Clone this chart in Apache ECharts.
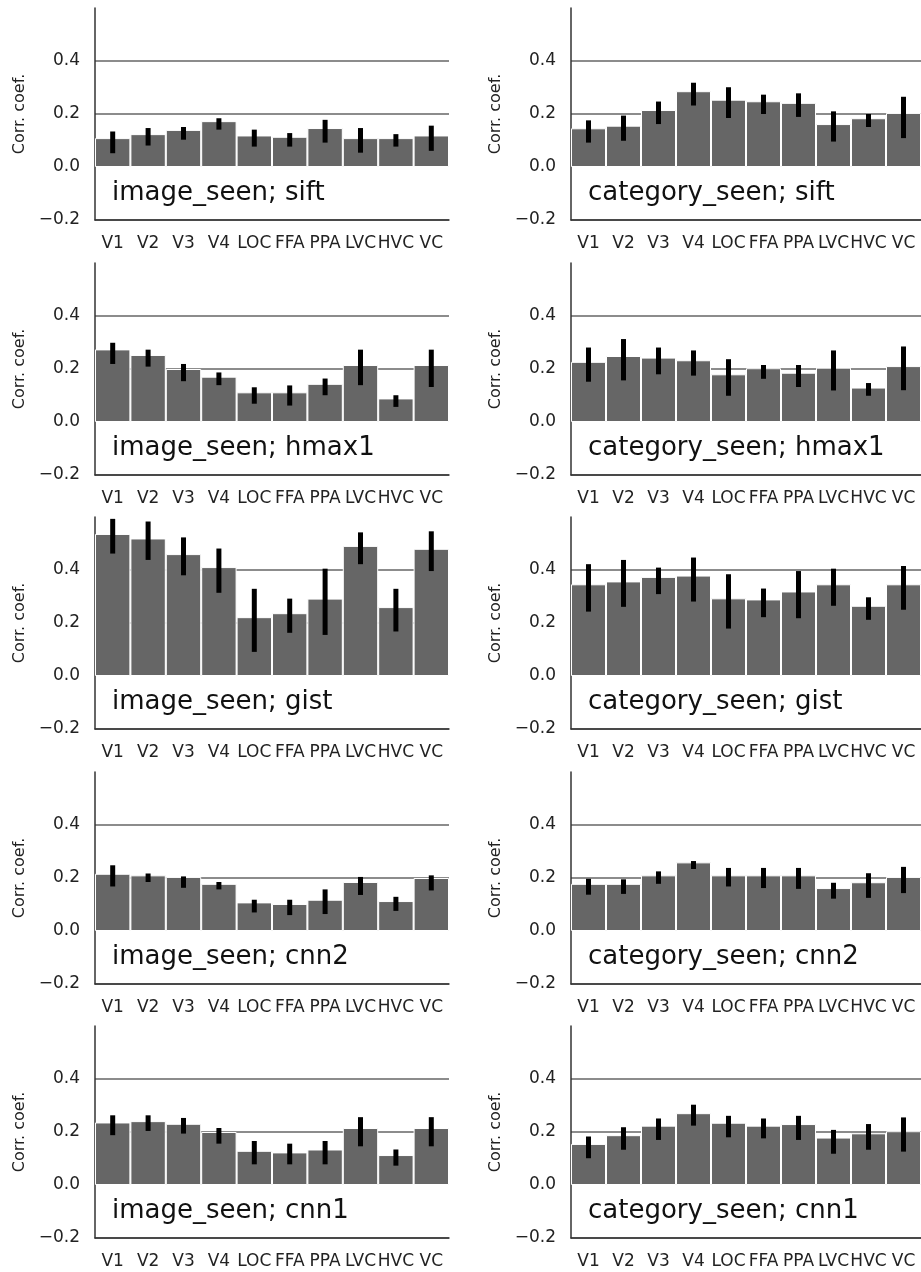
<!DOCTYPE html>
<html>
<head>
<meta charset="utf-8">
<script src="https://cdn.jsdelivr.net/npm/echarts@6/dist/echarts.min.js"></script>
<style>
html,body{margin:0;padding:0;background:#fff;}
#chart{width:921px;height:1272px;}
</style>
</head>
<body>
<div id="chart"></div>
<script>
// ---- data ----
const categories = ['V1','V2','V3','V4','LOC','FFA','PPA','LVC','HVC','VC'];
const yTickLabels = ['\u22120.2','0.0','0.2','0.4'];

const imageSiftMean = [0.109,0.124,0.140,0.173,0.119,0.114,0.147,0.109,0.109,0.119];
const imageSiftLow  = [0.052,0.081,0.103,0.141,0.077,0.077,0.092,0.054,0.077,0.061];
const imageSiftHigh = [0.134,0.147,0.151,0.184,0.141,0.128,0.178,0.147,0.124,0.156];

const categorySiftMean = [0.146,0.156,0.215,0.286,0.254,0.248,0.242,0.162,0.184,0.204];
const categorySiftLow  = [0.092,0.099,0.162,0.232,0.185,0.200,0.189,0.096,0.151,0.109];
const categorySiftHigh = [0.176,0.194,0.247,0.318,0.301,0.273,0.278,0.210,0.200,0.265];

const imageHmax1Mean = [0.274,0.253,0.200,0.171,0.112,0.112,0.144,0.215,0.089,0.215];
const imageHmax1Low  = [0.219,0.209,0.154,0.139,0.069,0.062,0.101,0.139,0.057,0.132];
const imageHmax1High = [0.299,0.273,0.219,0.187,0.131,0.138,0.164,0.273,0.101,0.273];

const categoryHmax1Mean = [0.227,0.249,0.243,0.233,0.180,0.203,0.186,0.205,0.130,0.211];
const categoryHmax1Low  = [0.152,0.157,0.180,0.175,0.099,0.163,0.132,0.119,0.099,0.120];
const categoryHmax1High = [0.281,0.313,0.281,0.270,0.237,0.215,0.215,0.270,0.147,0.285];

const imageGistMean = [0.536,0.519,0.460,0.411,0.222,0.237,0.292,0.491,0.260,0.480];
const imageGistLow  = [0.462,0.438,0.380,0.314,0.091,0.163,0.155,0.422,0.168,0.396];
const imageGistHigh = [0.593,0.583,0.523,0.481,0.329,0.292,0.405,0.542,0.329,0.546];

const categoryGistMean = [0.346,0.357,0.374,0.379,0.293,0.289,0.319,0.346,0.265,0.346];
const categoryGistLow  = [0.243,0.261,0.309,0.281,0.179,0.222,0.218,0.265,0.212,0.250];
const categoryGistHigh = [0.422,0.438,0.409,0.447,0.384,0.330,0.396,0.405,0.297,0.415];

const imageCnn2Mean = [0.216,0.210,0.204,0.178,0.108,0.102,0.118,0.185,0.113,0.200];
const imageCnn2Low  = [0.168,0.185,0.163,0.157,0.070,0.060,0.064,0.136,0.076,0.153];
const imageCnn2High = [0.248,0.217,0.206,0.185,0.118,0.118,0.157,0.204,0.129,0.210];

const categoryCnn2Mean = [0.178,0.178,0.210,0.259,0.210,0.210,0.210,0.162,0.184,0.204];
const categoryCnn2Low  = [0.137,0.140,0.178,0.234,0.168,0.162,0.159,0.122,0.125,0.143];
const categoryCnn2High = [0.197,0.195,0.225,0.264,0.238,0.238,0.238,0.182,0.218,0.242];

const imageCnn1Mean = [0.236,0.241,0.231,0.200,0.129,0.123,0.134,0.215,0.113,0.215];
const imageCnn1Low  = [0.188,0.204,0.194,0.156,0.078,0.078,0.078,0.146,0.073,0.146];
const imageCnn1High = [0.263,0.263,0.253,0.215,0.166,0.156,0.166,0.256,0.134,0.256];

const categoryCnn1Mean = [0.155,0.188,0.224,0.271,0.235,0.224,0.230,0.179,0.195,0.203];
const categoryCnn1Low  = [0.101,0.133,0.170,0.224,0.180,0.176,0.170,0.118,0.133,0.126];
const categoryCnn1High = [0.183,0.218,0.251,0.303,0.261,0.251,0.261,0.208,0.230,0.255];

const panelTitles = [
  'image_seen; sift','category_seen; sift',
  'image_seen; hmax1','category_seen; hmax1',
  'image_seen; gist','category_seen; gist',
  'image_seen; cnn2','category_seen; cnn2',
  'image_seen; cnn1','category_seen; cnn1'
];
const panelData = [
  [imageSiftMean, imageSiftLow, imageSiftHigh],
  [categorySiftMean, categorySiftLow, categorySiftHigh],
  [imageHmax1Mean, imageHmax1Low, imageHmax1High],
  [categoryHmax1Mean, categoryHmax1Low, categoryHmax1High],
  [imageGistMean, imageGistLow, imageGistHigh],
  [categoryGistMean, categoryGistLow, categoryGistHigh],
  [imageCnn2Mean, imageCnn2Low, imageCnn2High],
  [categoryCnn2Mean, categoryCnn2Low, categoryCnn2High],
  [imageCnn1Mean, imageCnn1Low, imageCnn1High],
  [categoryCnn1Mean, categoryCnn1Low, categoryCnn1High]
];

// ---- layout ----
const rowTops = [8, 263, 517, 772, 1026];
const colLefts = [95, 571];
const gridW = 354, gridH = 212;
const FONT = 'DejaVu Sans';
const GRID_GRAY = '#8c8c8c';

const grids = [], xAxes = [], yAxes = [], series = [], titles = [];
panelData.forEach((pd, k) => {
  const row = Math.floor(k / 2), col = k % 2;
  grids.push({left: colLefts[col], top: rowTops[row], width: gridW, height: gridH, containLabel: false});
  xAxes.push({
    gridIndex: k, type: 'category', data: categories,
    axisLine: {show: true, onZero: false, lineStyle: {color: '#333', width: 1.5}},
    axisTick: {show: false},
    axisLabel: {interval: 0, hideOverlap: false, color: '#222', fontSize: 17, margin: 15, fontFamily: FONT},
    splitLine: {show: false}
  });
  yAxes.push({
    gridIndex: k, type: 'value', min: -0.2, max: 0.6, interval: 0.2,
    name: 'Corr. coef.', nameLocation: 'middle', nameRotate: 90, nameGap: 67,
    nameTextStyle: {color: '#222', fontSize: 16, fontFamily: FONT},
    axisLine: {show: true, lineStyle: {color: '#333', width: 1.5}},
    axisTick: {show: false},
    axisLabel: {
      color: '#222', fontSize: 17, margin: 15, fontFamily: FONT,
      formatter: v => {
        const idx = Math.round((v + 0.2) / 0.2);
        return idx < yTickLabels.length ? yTickLabels[idx] : '';
      }
    },
    splitLine: {show: true, lineStyle: {color: [GRID_GRAY, 'rgba(0,0,0,0)', GRID_GRAY, GRID_GRAY, 'rgba(0,0,0,0)'], width: 2}}
  });
  series.push({
    type: 'bar', xAxisIndex: k, yAxisIndex: k, data: pd[0],
    barCategoryGap: '0%', barWidth: '100%',
    itemStyle: {color: '#666666', borderColor: '#ffffff', borderWidth: 1},
    silent: true, z: 2
  });
  series.push({
    type: 'custom', xAxisIndex: k, yAxisIndex: k,
    data: categories.map((c, i) => [i, pd[1][i], pd[2][i]]),
    encode: {x: 0, y: [1, 2]},
    renderItem: (params, api) => {
      const i = api.value(0);
      const p1 = api.coord([i, api.value(1)]);
      const p2 = api.coord([i, api.value(2)]);
      return {type: 'line', shape: {x1: p1[0], y1: p1[1], x2: p2[0], y2: p2[1]},
              style: {stroke: '#000', lineWidth: 5}};
    },
    silent: true, z: 3
  });
  titles.push({
    text: panelTitles[k], left: colLefts[col] + 17, top: rowTops[row] + 170, padding: 0,
    textStyle: {fontFamily: FONT, fontSize: 26, fontWeight: 'normal', color: '#111', lineHeight: 30}
  });
});

const chart = echarts.init(document.getElementById('chart'), null, {renderer: 'canvas'});
chart.setOption({
  animation: false,
  backgroundColor: '#fff',
  textStyle: {fontFamily: FONT},
  title: titles,
  grid: grids, xAxis: xAxes, yAxis: yAxes, series: series
});
</script>
</body>
</html>
